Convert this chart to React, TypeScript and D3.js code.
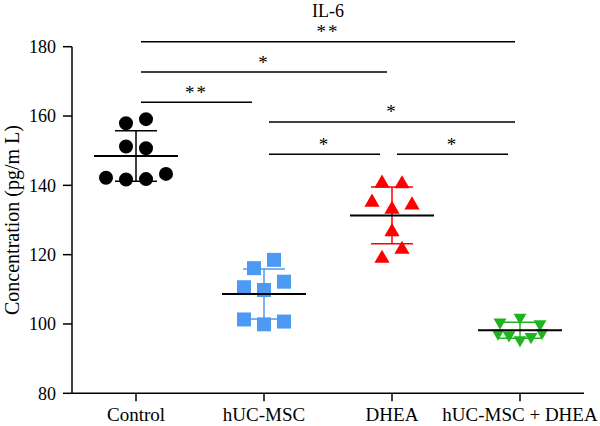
import * as d3 from "d3";

const groups = ["Control", "hUC-MSC", "DHEA", "hUC-MSC + DHEA"];
const colors = ["#000000", "#4d9af2", "#ff0000", "#1fb41f"];
const shapes = [d3.symbolCircle, d3.symbolSquare, d3.symbolTriangle, d3.symbolTriangle];

const controlValues = [157.9, 159.1, 151.2, 150.7, 142.2, 141.7, 141.8, 143.3];
const mscValues = [116.1, 118.5, 110.6, 109.8, 112.2, 101.3, 99.9, 100.7];
const dheaValues = [140.6, 140.4, 135.1, 133.1, 134.3, 126.6, 118.9, 121.5];
const comboValues = [100.5, 101.9, 100.0, 97.3, 96.8, 95.4, 96.3, 97.5];
const values = [controlValues, mscValues, dheaValues, comboValues];

const yTicks = [80, 100, 120, 140, 160, 180];

// significance brackets: from group, to group, height (data units), label
const brackets: [number, number, number, string][] = [
  [0, 3, 181.4, "**"],
  [0, 2, 172.7, "*"],
  [0, 1, 164.0, "**"],
  [1, 3, 158.3, "*"],
  [1, 2, 149.0, "*"],
  [2, 3, 149.0, "*"],
];

const width = 600;
const height = 426;
const font = "'Liberation Serif', 'Times New Roman', serif";

// Prism-like column scatter: values close together share a row
function spread(vals: number[]) {
  const order = d3.range(vals.length).sort((a, b) => vals[b] - vals[a]);
  const rows: number[][] = [];
  order.forEach((i) => {
    const row = rows[rows.length - 1];
    if (row && vals[row[0]] - vals[i] < 3) row.push(i);
    else rows.push([i]);
  });
  const offsets = new Array(vals.length).fill(0);
  rows.forEach((row) => {
    row.sort((a, b) => a - b);
    const step = row.length > 4 ? 11 : 20;
    row.forEach((i, k) => (offsets[i] = (k - (row.length - 1) / 2) * step));
  });
  return offsets;
}

export default function App() {
  const x = d3.scalePoint<string>().domain(groups).range([72, 584]).padding(0.5);
  const y = d3.scaleLinear().domain([80, 180]).range([393.3, 46.7]);
  const xi = (i: number) => x(groups[i]) as number;

  const sizes = [154, 196, 100, 72];

  return (
    <div style={{ position: "absolute", left: 0, top: 0 }}>
      <svg width={width} height={height} fontFamily={font} style={{ display: "block", background: "#fff" }}>
        <text x={328} y={17} textAnchor="middle" fontSize={18}>
          IL-6
        </text>

        {/* y axis */}
        <line x1={72} x2={72} y1={y(180)} y2={y(80)} stroke="#000" strokeWidth={1.5} />
        {yTicks.map((t) => (
          <g key={t}>
            <line x1={63} x2={72} y1={y(t)} y2={y(t)} stroke="#000" strokeWidth={1.5} />
            <text x={56} y={y(t)} dy="0.35em" textAnchor="end" fontSize={18}>
              {t}
            </text>
          </g>
        ))}
        <text
          transform={`translate(12,${(y(180) + y(80)) / 2}) rotate(-90)`}
          textAnchor="middle"
          dominantBaseline="central"
          fontSize={20}
        >
          Concentration (pg/m L)
        </text>

        {/* x axis */}
        <line x1={72} x2={584} y1={y(80)} y2={y(80)} stroke="#000" strokeWidth={1.5} />
        {groups.map((g) => (
          <g key={g}>
            <line x1={x(g)} x2={x(g)} y1={y(80)} y2={y(80) + 8} stroke="#000" strokeWidth={1.5} />
            <text x={x(g)} y={421} textAnchor="middle" fontSize={19}>
              {g}
            </text>
          </g>
        ))}

        {/* points */}
        {values.map((vals, gi) => {
          const offs = spread(vals);
          const sym = d3.symbol(shapes[gi], sizes[gi]);
          return (
            <g key={gi} fill={colors[gi]}>
              {vals.map((v, i) => (
                <path
                  key={i}
                  d={sym() as string}
                  transform={`translate(${xi(gi) + offs[i]},${y(v)})${gi === 3 ? " rotate(180)" : ""}`}
                />
              ))}
            </g>
          );
        })}

        {/* mean and SD */}
        {values.map((vals, gi) => {
          const m = d3.mean(vals) as number;
          const sd = d3.deviation(vals) as number;
          const cx = xi(gi);
          return (
            <g key={gi}>
              <line x1={cx} x2={cx} y1={y(m + sd)} y2={y(m - sd)} stroke={colors[gi]} strokeWidth={1.5} />
              <line x1={cx - 21} x2={cx + 21} y1={y(m + sd)} y2={y(m + sd)} stroke={colors[gi]} strokeWidth={1.5} />
              <line x1={cx - 21} x2={cx + 21} y1={y(m - sd)} y2={y(m - sd)} stroke={colors[gi]} strokeWidth={1.5} />
              <line x1={cx - 42} x2={cx + 42} y1={y(m)} y2={y(m)} stroke="#000" strokeWidth={2} />
            </g>
          );
        })}

        {/* significance */}
        {brackets.map(([a, b, v, label], i) => {
          const x1 = xi(a) + 5;
          const x2 = xi(b) - (b - a === 1 ? 12 : 5);
          return (
            <g key={i}>
              <line x1={x1} x2={x2} y1={y(v)} y2={y(v)} stroke="#000" strokeWidth={1.5} />
              <text x={(x1 + x2) / 2} y={y(v) - 3.5} textAnchor="middle" fontSize={19} letterSpacing={2}>
                {label}
              </text>
            </g>
          );
        })}
      </svg>
    </div>
  );
}
